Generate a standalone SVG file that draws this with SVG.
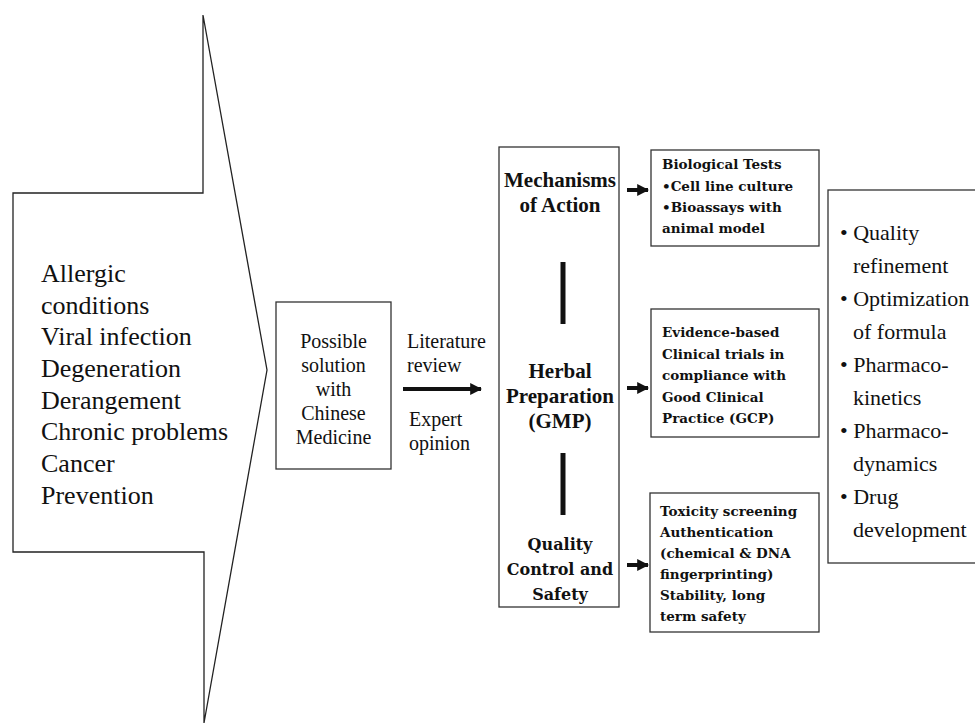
<svg xmlns="http://www.w3.org/2000/svg" width="975" height="724" viewBox="0 0 975 724">
<defs>
<style>
.ln{fill:none;stroke:#222;stroke-width:1.3}
.bx{fill:#fff;stroke:#333;stroke-width:1.3}
.t20{font-family:'Liberation Serif','DejaVu Serif',serif;font-size:20px;fill:#111}
.t26{font-family:'Liberation Serif','DejaVu Serif',serif;font-size:26px;fill:#111}
.t22{font-family:'Liberation Serif','DejaVu Serif',serif;font-size:22px;fill:#111}
.tb{font-family:'Liberation Serif','DejaVu Serif',serif;font-size:21px;font-weight:bold;fill:#111;text-anchor:middle}
.tq{font-family:'DejaVu Serif',serif;font-size:16px;font-weight:bold;fill:#111;text-anchor:middle}
.ts{font-family:'DejaVu Serif',serif;font-size:13.5px;font-weight:bold;fill:#111}
.bar{stroke:#111;stroke-width:5}
.ar{stroke:#111;stroke-width:4;fill:none}
</style>
<marker id="ah" viewBox="0 0 10 10" refX="9" refY="5" markerWidth="3" markerHeight="3" orient="auto" markerUnits="strokeWidth">
<path d="M0,0 L10,5 L0,10 z" fill="#111"/>
</marker>
</defs>
<rect width="975" height="724" fill="#fff"/>

<g id="problems">
<polygon class="ln" points="13,193 203,193 203,15 267,370 204,723 204,552 13,552"/>
<text class="t26" x="41" y="282">Allergic</text>
<text class="t26" x="41" y="313.7">conditions</text>
<text class="t26" x="41" y="345.4">Viral infection</text>
<text class="t26" x="41" y="377">Degeneration</text>
<text class="t26" x="41" y="408.7">Derangement</text>
<text class="t26" x="41" y="440.4">Chronic problems</text>
<text class="t26" x="41" y="472">Cancer</text>
<text class="t26" x="41" y="503.8">Prevention</text>
</g>

<g id="solution">
<rect class="bx" x="276" y="302" width="115" height="167"/>
<text class="t20" text-anchor="middle" x="333.5" y="348">Possible</text>
<text class="t20" text-anchor="middle" x="333.5" y="372">solution</text>
<text class="t20" text-anchor="middle" x="333.5" y="396">with</text>
<text class="t20" text-anchor="middle" x="333.5" y="420">Chinese</text>
<text class="t20" text-anchor="middle" x="333.5" y="444">Medicine</text>
</g>

<g id="connectors">
<line class="ar" x1="403" y1="389" x2="481" y2="389" marker-end="url(#ah)"/>
<line class="ar" x1="627" y1="190" x2="648" y2="190" marker-end="url(#ah)"/>
<line class="ar" x1="627" y1="388" x2="648" y2="388" marker-end="url(#ah)"/>
<line class="ar" x1="627" y1="565" x2="648" y2="565" marker-end="url(#ah)"/>
<text class="t20" x="407" y="348">Literature</text>
<text class="t20" x="407" y="372">review</text>
<text class="t20" x="409" y="426">Expert</text>
<text class="t20" x="409" y="450">opinion</text>
</g>

<g id="herbal">
<rect class="bx" x="499" y="147" width="120" height="460"/>
<text class="tb" x="560" y="187">Mechanisms</text>
<text class="tb" x="560" y="212">of Action</text>
<line class="bar" x1="563" y1="262" x2="563" y2="324"/>
<text class="tb" x="560" y="378">Herbal</text>
<text class="tb" x="560" y="403">Preparation</text>
<text class="tb" x="560" y="428">(GMP)</text>
<line class="bar" x1="563" y1="453" x2="563" y2="515"/>
<text class="tq" x="560" y="550">Quality</text>
<text class="tq" x="560" y="575">Control and</text>
<text class="tq" x="560" y="600">Safety</text>
</g>

<g id="biological">
<rect class="bx" x="651" y="150" width="168" height="96"/>
<text class="ts" x="662" y="169">Biological Tests</text>
<text class="ts" x="662" y="191">•Cell line culture</text>
<text class="ts" x="662" y="212">•Bioassays with</text>
<text class="ts" x="662" y="233"> animal model</text>
</g>

<g id="clinical">
<rect class="bx" x="651" y="309" width="168" height="128"/>
<text class="ts" x="662" y="337">Evidence-based</text>
<text class="ts" x="662" y="358.5">Clinical trials in</text>
<text class="ts" x="662" y="380">compliance with</text>
<text class="ts" x="662" y="401.5">Good Clinical</text>
<text class="ts" x="662" y="423">Practice (GCP)</text>
</g>

<g id="toxicity">
<rect class="bx" x="650" y="493" width="169" height="139"/>
<text class="ts" x="660" y="516">Toxicity screening</text>
<text class="ts" x="660" y="537">Authentication</text>
<text class="ts" x="660" y="558">(chemical &amp; DNA</text>
<text class="ts" x="660" y="579">fingerprinting)</text>
<text class="ts" x="660" y="600">Stability, long</text>
<text class="ts" x="660" y="621">term safety</text>
</g>

<g id="development">
<rect class="bx" x="828" y="190" width="160" height="373"/>
<text class="t22" x="840" y="240">• Quality</text>
<text class="t22" x="853" y="273">refinement</text>
<text class="t22" x="840" y="306">• Optimization</text>
<text class="t22" x="853" y="339">of formula</text>
<text class="t22" x="840" y="372">• Pharmaco-</text>
<text class="t22" x="853" y="405">kinetics</text>
<text class="t22" x="840" y="438">• Pharmaco-</text>
<text class="t22" x="853" y="471">dynamics</text>
<text class="t22" x="840" y="504">• Drug</text>
<text class="t22" x="853" y="537">development</text>
</g>
</svg>
